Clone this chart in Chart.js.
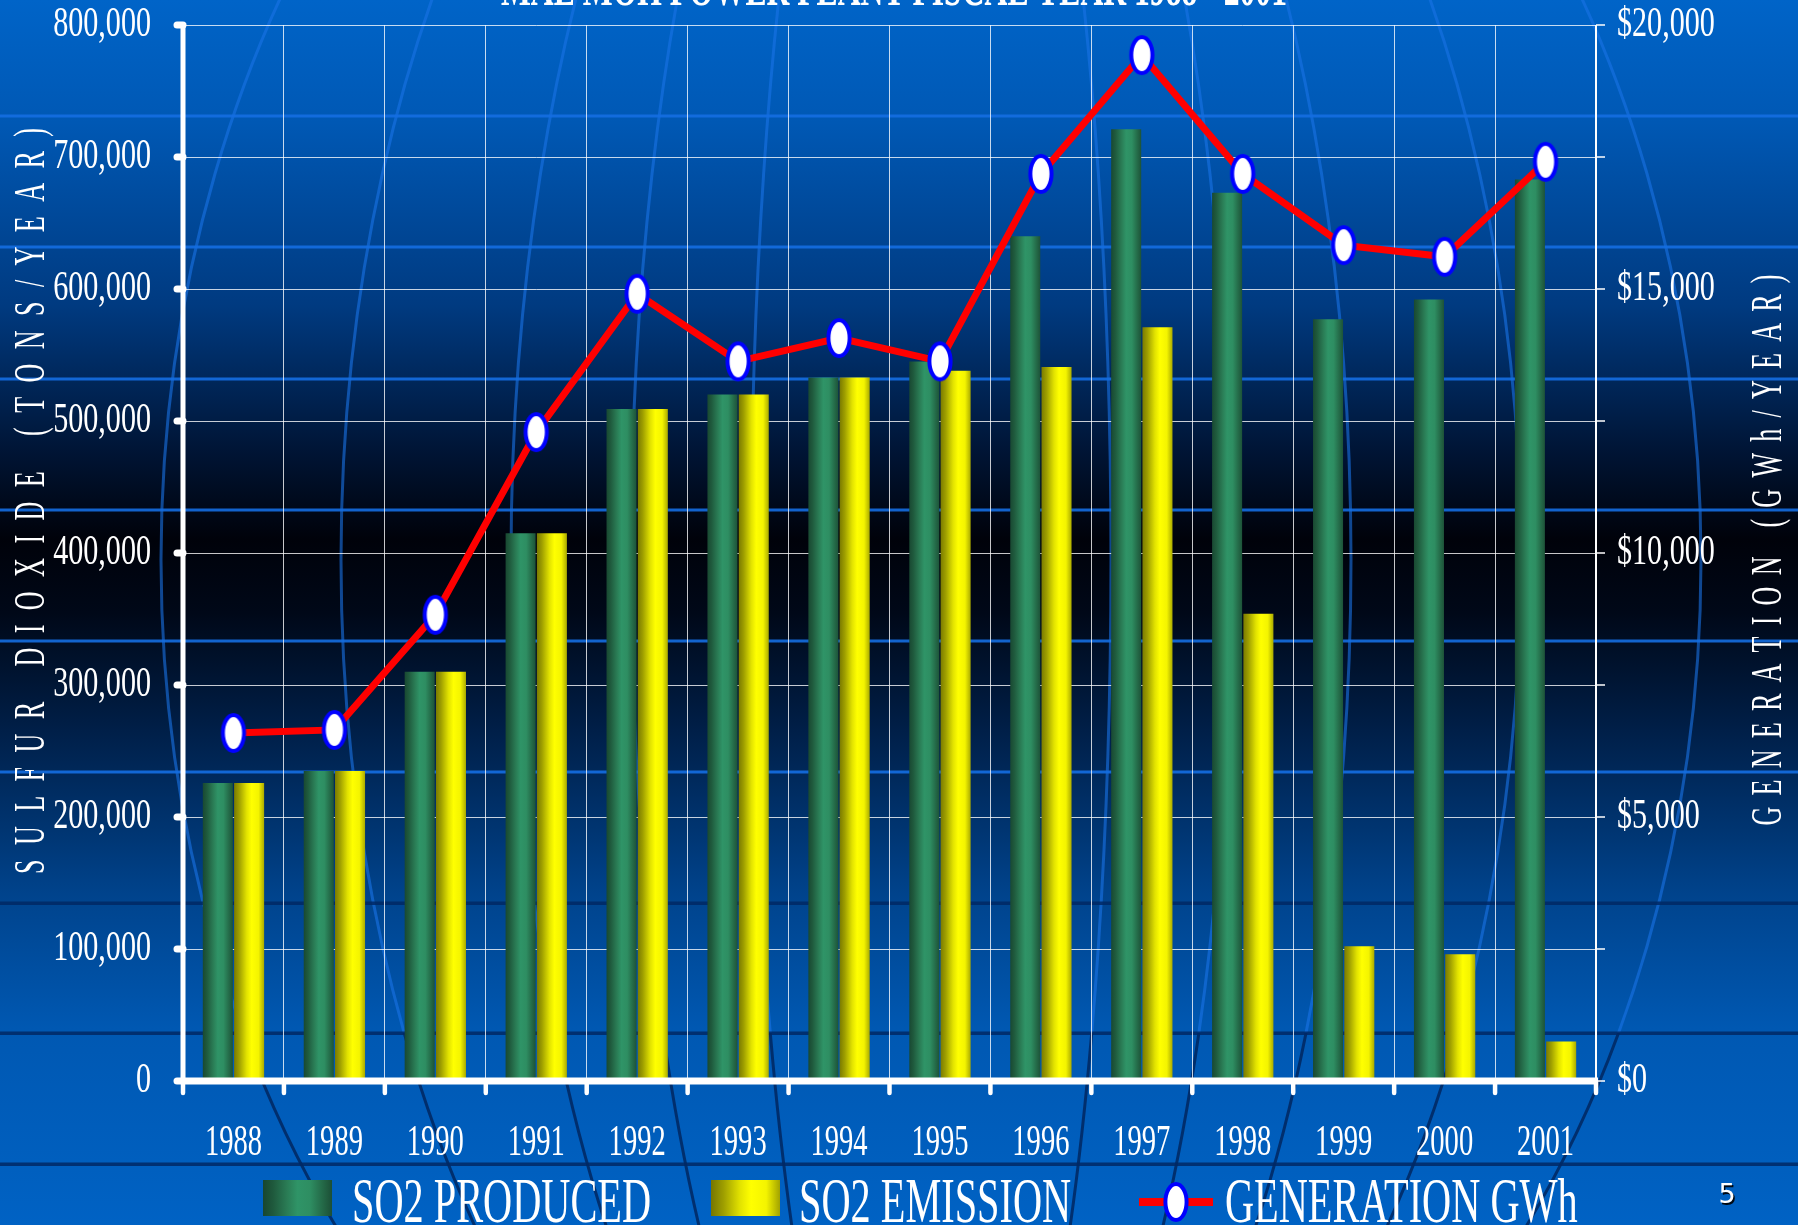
<!DOCTYPE html>
<html><head><meta charset="utf-8">
<script src="https://cdn.jsdelivr.net/npm/chart.js@4/dist/chart.umd.min.js"></script>
<style>
html,body{margin:0;padding:0;background:#0060c0;overflow:hidden}
#wrap{position:relative;width:1798px;height:1225px}
</style></head><body>
<div id="wrap"><canvas id="c"></canvas></div>
<script>
// ---------- data ----------
const chartTitle = 'MAE MOH POWER PLANT FISCAL YEAR 1988 - 2001';
const years = ['1988','1989','1990','1991','1992','1993','1994','1995','1996','1997','1998','1999','2000','2001'];
const so2Produced = [225800, 234800, 310000, 415000, 509000, 520000, 533000, 545000, 640000, 721000, 673000, 577000, 592000, 683000];
const so2Emission = [225800, 234800, 310000, 415000, 509000, 520000, 533000, 538000, 541000, 571000, 354000, 102000, 96000, 30000];
const generationGWh = [6590, 6650, 8830, 12290, 14910, 13630, 14070, 13630, 17180, 19430, 17180, 15830, 15610, 17410];
const seriesNames = ['SO2 PRODUCED', 'SO2 EMISSION', 'GENERATION GWh'];
const leftAxisTitle = 'SULFUR DIOXIDE (TONS/YEAR)';
const rightAxisTitle = 'GENERATION (GWh/YEAR)';
const leftAxisRange = [0, 800000, 100000];
const rightAxisRange = [0, 20000, 5000];
const slideNumber = '5';

const CAT_PCT = 0.62, BAR_PCT = 0.96;
const SERIF = '"Liberation Serif", "Times New Roman", serif';

function greenStops(g){
  g.addColorStop(0,'#184630'); g.addColorStop(0.15,'#1f5a3d'); g.addColorStop(0.35,'#2a7c55');
  g.addColorStop(0.5,'#2f9467'); g.addColorStop(0.68,'#2e8e62'); g.addColorStop(0.86,'#246a48'); g.addColorStop(1,'#1c4f36');
  return g;
}
function yellowStops(g){
  g.addColorStop(0,'#767600'); g.addColorStop(0.18,'#9e9e00'); g.addColorStop(0.42,'#e2e200');
  g.addColorStop(0.58,'#ffff00'); g.addColorStop(0.8,'#f4f400'); g.addColorStop(1,'#a2a200');
  return g;
}
function barGrad(c, which){
  const chart = c.chart, xs = chart.scales.x;
  if (!chart.chartArea || !xs || c.type !== 'data') return which === 0 ? '#2e9466' : '#ffff00';
  const xc = xs.getPixelForValue(c.dataIndex);
  const catW = xs.width / years.length;
  const groupW = catW * CAT_PCT, slot = groupW / 2;
  const left = which === 0 ? xc - groupW / 2 : xc;
  const g = chart.ctx.createLinearGradient(left, 0, left + slot, 0);
  return which === 0 ? greenStops(g) : yellowStops(g);
}
function makeMarker(){
  const c = document.createElement('canvas'); c.width = 28; c.height = 44;
  const g = c.getContext('2d');
  g.beginPath(); g.ellipse(14, 22, 10.6, 18, 0, 0, Math.PI * 2);
  g.fillStyle = '#ffffff'; g.fill(); g.lineWidth = 4; g.strokeStyle = '#0000ff'; g.stroke();
  return c;
}
const marker = makeMarker();

function txt(ctx, s, x, y, o){
  ctx.save(); ctx.translate(x, y); if (o.rot) ctx.rotate(o.rot);
  ctx.scale(o.sx || 1, 1);
  ctx.font = o.font; ctx.fillStyle = o.color || '#ffffff';
  ctx.textAlign = o.align || 'left'; ctx.textBaseline = o.baseline || 'alphabetic';
  ctx.fillText(s, 0, 0); ctx.restore();
}
function spacedVertical(ctx, s, cx, cy, length, px, sx, capH){
  ctx.save(); ctx.translate(cx, cy); ctx.rotate(-Math.PI / 2);
  ctx.font = px + 'px ' + SERIF; ctx.fillStyle = '#ffffff'; ctx.textBaseline = 'alphabetic'; ctx.textAlign = 'left';
  const chars = [...s];
  const w = chars.map(ch => ctx.measureText(ch).width * sx);
  const total = w.reduce((a, b) => a + b, 0);
  const gap = (length - total) / (chars.length - 1);
  let x = -length / 2;
  chars.forEach((ch, i) => { ctx.save(); ctx.translate(x, capH / 2); ctx.scale(sx, 1); ctx.fillText(ch, 0, 0); ctx.restore(); x += w[i] + gap; });
  ctx.restore();
}

const bgPlugin = {
  id: 'bg',
  beforeDraw(chart){
    const ctx = chart.ctx, W = chart.width, H = chart.height;
    ctx.save();
    const g = ctx.createLinearGradient(0, 0, 0, H);
    g.addColorStop(0, '#0064c8'); g.addColorStop(0.1, '#0058b4'); g.addColorStop(0.25, '#003a80');
    g.addColorStop(0.37, '#001434'); g.addColorStop(0.44, '#00020a'); g.addColorStop(0.5, '#000818');
    g.addColorStop(0.6, '#00204a'); g.addColorStop(0.73, '#00438c'); g.addColorStop(0.84, '#0058b2'); g.addColorStop(1, '#0062c4');
    ctx.fillStyle = g; ctx.fillRect(0, 0, W, H);
    const cx = 931, cy = 560;
    const rxs = [770, 590, 420, 300, 180];
    ctx.lineWidth = 3;
    ctx.save(); ctx.beginPath(); ctx.rect(0, 0, W, 1033); ctx.clip();
    ctx.strokeStyle = 'rgba(25,115,230,0.6)';
    rxs.forEach(rx => { ctx.beginPath(); ctx.ellipse(cx, cy, rx, 1050, 0, 0, Math.PI * 2); ctx.stroke(); });
    ctx.beginPath(); ctx.ellipse(cx, cy, 1150, 1150, 0, 0, Math.PI * 2); ctx.stroke();
    ctx.restore();
    ctx.save(); ctx.beginPath(); ctx.rect(0, 1033, W, H); ctx.clip();
    ctx.strokeStyle = 'rgba(0,35,90,0.8)';
    rxs.forEach(rx => { ctx.beginPath(); ctx.ellipse(cx, cy, rx, 1050, 0, 0, Math.PI * 2); ctx.stroke(); });
    ctx.beginPath(); ctx.ellipse(cx, cy, 1150, 1150, 0, 0, Math.PI * 2); ctx.stroke();
    ctx.restore();
    ctx.fillStyle = 'rgba(20,110,225,0.9)';
    [116, 247, 379, 510, 641, 772].forEach(y => ctx.fillRect(0, y - 1.5, W, 3));
    ctx.fillStyle = 'rgba(0,40,100,0.85)';
    [903, 1033, 1164].forEach(y => ctx.fillRect(0, y - 1.5, W, 3.5));
    ctx.restore();
  }
};

function line(ctx, x1, y1, x2, y2){ ctx.beginPath(); ctx.moveTo(x1, y1); ctx.lineTo(x2, y2); ctx.stroke(); }

const decoPlugin = {
  id: 'deco',
  afterDraw(chart){
    const ctx = chart.ctx, a = chart.chartArea;
    const xs = chart.scales.x, ys = chart.scales.y, y1 = chart.scales.y1;
    const catW = xs.width / years.length;
    ctx.save();
    ctx.strokeStyle = '#ffffff';
    ctx.lineCap = 'butt'; ctx.lineWidth = 2;
    line(ctx, a.right, a.top, a.right, a.bottom);
    ctx.lineWidth = 1.5;
    ys.ticks.forEach(t => { const y = ys.getPixelForValue(t.value); line(ctx, a.right, y, a.right + 9, y); });
    ctx.lineCap = 'round'; ctx.lineWidth = 5;
    line(ctx, a.left, a.top, a.left, a.bottom);
    ctx.lineWidth = 7;
    ys.ticks.forEach(t => { const y = ys.getPixelForValue(t.value); line(ctx, a.left - 6, y, a.left, y); });
    ctx.lineCap = 'butt'; ctx.lineWidth = 7;
    line(ctx, a.left - 2, a.bottom, a.right + 2, a.bottom);
    ctx.lineCap = 'round'; ctx.lineWidth = 4.5;
    for (let i = 0; i <= years.length; i++){
      const x = i < years.length ? xs.getPixelForValue(i) - catW / 2 : xs.getPixelForValue(years.length - 1) + catW / 2;
      line(ctx, x, a.bottom, x, a.bottom + 12);
    }
    ctx.restore();

    const tf = '43px ' + SERIF;
    ys.ticks.forEach(t => {
      const y = ys.getPixelForValue(t.value);
      txt(ctx, t.value.toLocaleString('en-US'), a.left - 32, y + 11, {font: tf, sx: 0.70, align: 'right'});
    });
    y1.ticks.forEach(t => {
      const y = y1.getPixelForValue(t.value);
      txt(ctx, '$' + t.value.toLocaleString('en-US'), a.right + 21, y + 11, {font: tf, sx: 0.70, align: 'left'});
    });
    years.forEach((yr, i) => {
      txt(ctx, yr, xs.getPixelForValue(i), a.bottom + 74, {font: '45px ' + SERIF, sx: 0.635, align: 'center'});
    });

    spacedVertical(ctx, leftAxisTitle, 29, 501, 746, 45, 0.58, 30);
    spacedVertical(ctx, rightAxisTitle, 1766, 550, 551, 45, 0.58, 30);

    ctx.save();
    ctx.font = 'bold 52px ' + SERIF;
    const tw = ctx.measureText(chartTitle).width;
    ctx.restore();
    txt(ctx, chartTitle, 894, 5, {font: 'bold 52px ' + SERIF, sx: 786 / tw, align: 'center'});

    const lf = '64px ' + SERIF, ly = 1222;
    let g = ctx.createLinearGradient(263, 0, 332, 0); ctx.fillStyle = greenStops(g); ctx.fillRect(263, 1180, 69, 36);
    txt(ctx, seriesNames[0], 352, ly, {font: lf, sx: 0.63});
    g = ctx.createLinearGradient(711, 0, 780, 0); ctx.fillStyle = yellowStops(g); ctx.fillRect(711, 1180, 69, 36);
    txt(ctx, seriesNames[1], 799, ly, {font: lf, sx: 0.63});
    ctx.save(); ctx.strokeStyle = '#ff0000'; ctx.lineWidth = 8; line(ctx, 1139, 1202, 1213, 1202); ctx.restore();
    ctx.drawImage(marker, 1176 - 14, 1202 - 22);
    txt(ctx, seriesNames[2], 1225, ly, {font: lf, sx: 0.63});

    ctx.save(); ctx.shadowColor = 'rgba(0,0,0,0.9)'; ctx.shadowOffsetX = 1.5; ctx.shadowOffsetY = 1.5;
    txt(ctx, slideNumber, 1727, 1203, {font: '27px "DejaVu Sans", sans-serif', align: 'center'});
    ctx.restore();
  }
};

new Chart(document.getElementById('c'), {
  data: {
    labels: years,
    datasets: [
      { type: 'line', label: seriesNames[2], data: generationGWh, yAxisID: 'y1', order: 0,
        borderColor: '#ff0000', borderWidth: 7, tension: 0, fill: false,
        pointStyle: marker, pointRadius: 12, pointHoverRadius: 12 },
      { type: 'bar', label: seriesNames[0], data: so2Produced, yAxisID: 'y', order: 1,
        backgroundColor: c => barGrad(c, 0), borderWidth: 0,
        categoryPercentage: CAT_PCT, barPercentage: BAR_PCT },
      { type: 'bar', label: seriesNames[1], data: so2Emission, yAxisID: 'y', order: 2,
        backgroundColor: c => barGrad(c, 1), borderWidth: 0,
        categoryPercentage: CAT_PCT, barPercentage: BAR_PCT }
    ]
  },
  options: {
    responsive: true, maintainAspectRatio: false, animation: false,
    layout: { padding: { left: 183, right: 202, top: 25, bottom: 144 } },
    plugins: { legend: { display: false }, title: { display: false }, tooltip: { enabled: false } },
    scales: {
      x: { type: 'category', offset: true,
           grid: { offset: true, color: 'rgba(255,255,255,0.78)', lineWidth: 1, drawTicks: false },
           border: { display: false }, ticks: { display: false } },
      y: { position: 'left', min: leftAxisRange[0], max: leftAxisRange[1],
           ticks: { stepSize: leftAxisRange[2], display: false },
           grid: { color: 'rgba(255,255,255,0.78)', lineWidth: 1, drawTicks: false },
           border: { display: false } },
      y1: { position: 'right', min: rightAxisRange[0], max: rightAxisRange[1],
            ticks: { stepSize: rightAxisRange[2], display: false },
            grid: { drawOnChartArea: false, drawTicks: false },
            border: { display: false } }
    }
  },
  plugins: [bgPlugin, decoPlugin]
});
</script>
</body></html>
